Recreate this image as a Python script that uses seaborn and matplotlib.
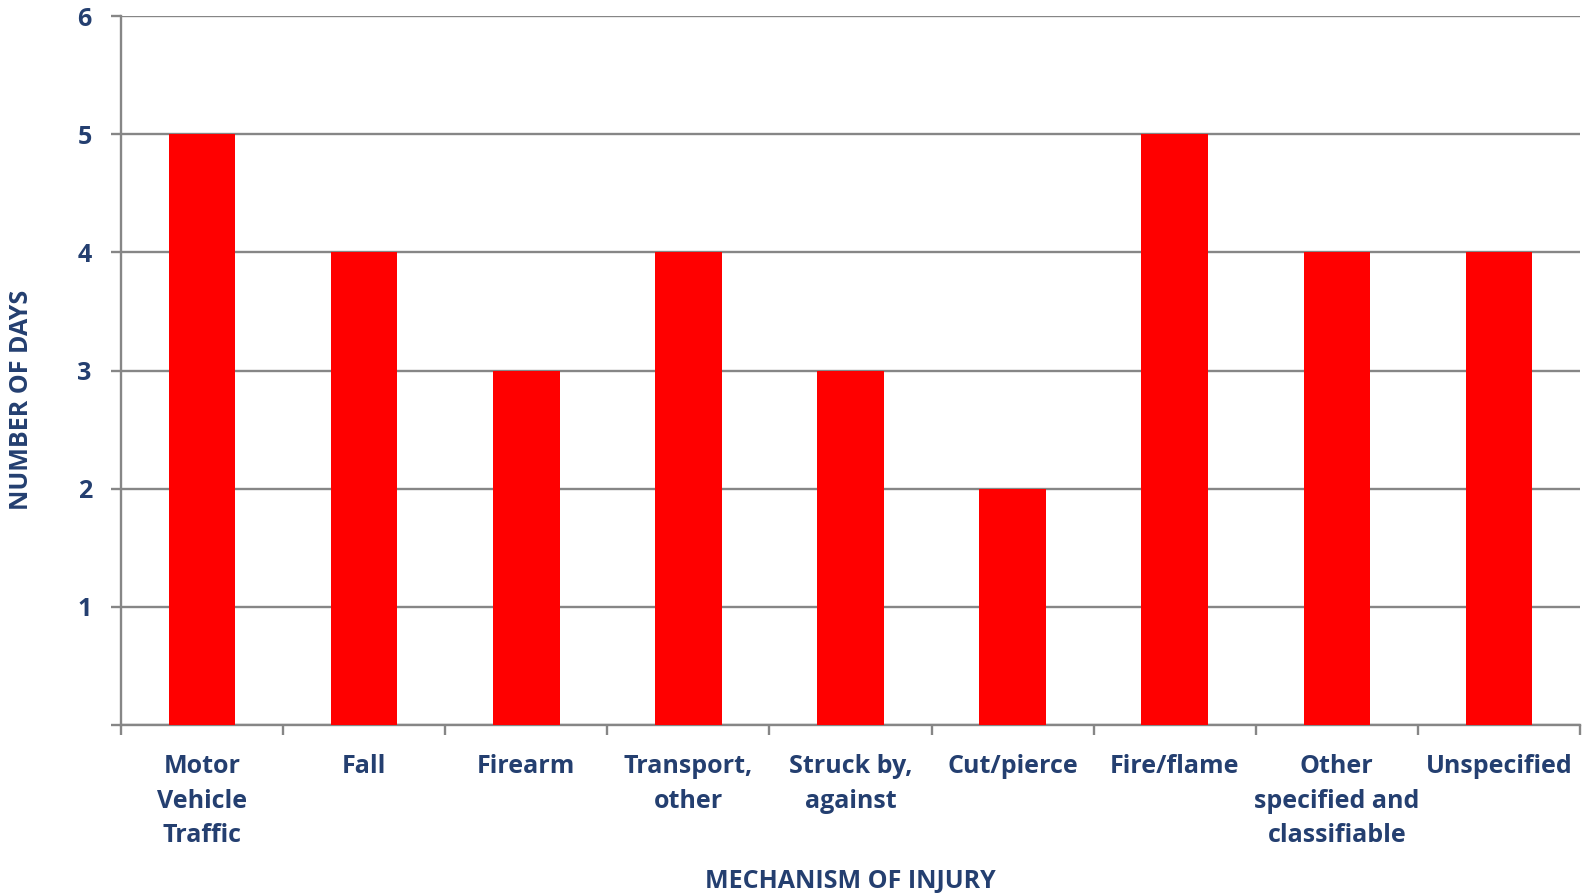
import numpy as np
import pandas as pd
import matplotlib
matplotlib.use("Agg")
import matplotlib.pyplot as plt
import seaborn as sns

categories = ["Motor\nVehicle\nTraffic", "Fall", "Firearm", "Transport,\nother",
              "Struck by,\nagainst", "Cut/pierce", "Fire/flame",
              "Other\nspecified and\nclassifiable", "Unspecified"]
days = [5, 4, 3, 4, 3, 2, 5, 4, 4]
y_ticks = [0, 1, 2, 3, 4, 5, 6]
y_tick_labels = ["", "1", "2", "3", "4", "5", "6"]

sns.set_theme(style="white")
plt.rcParams["font.family"] = ["Open Sans", "DejaVu Sans"]
plt.rcParams["font.weight"] = "bold"

TEXT = "#243F70"
GRID = "#868686"
FS = 18

df = pd.DataFrame({"cat": categories, "days": days})

fig = plt.figure(figsize=(15.85, 8.93), dpi=100)
ax = fig.add_axes([121 / 1585, 1 - 725 / 893, (1580 - 121) / 1585, (725 - 16) / 893])

sns.barplot(data=df, x="cat", y="days", color="#FF0000", width=0.41,
            saturation=1, linewidth=0, edgecolor="none", ax=ax, zorder=3)

ax.set_xlim(-0.5, len(categories) - 0.5)
ax.set_ylim(0, 6)
ax.set_yticks(y_ticks)
ax.set_yticklabels(y_tick_labels, fontsize=FS, fontweight="bold", color=TEXT)
ax.yaxis.grid(True, color=GRID, linewidth=1.7, zorder=0)
ax.set_axisbelow(True)

ax.set_xticks(range(len(categories)))
ax.set_xticklabels(categories, fontsize=FS, fontweight="bold", color=TEXT,
                   linespacing=1.5, va="top")
ax.set_xticks(np.arange(-0.5, len(categories), 1.0), minor=True)
ax.tick_params(axis="x", which="major", bottom=True, length=0, pad=21)
ax.tick_params(axis="x", which="minor", bottom=True, length=7, width=1.7,
               color=GRID, direction="out")
ax.tick_params(axis="y", which="major", left=True, length=7, width=1.7, color=GRID,
               pad=14, direction="out")

for side in ["top", "right"]:
    ax.spines[side].set_visible(False)
for side in ["left", "bottom"]:
    ax.spines[side].set_color(GRID)
    ax.spines[side].set_linewidth(1.7)

ax.set_xlabel("")
ax.set_ylabel("")
fig.text(850 / 1585, 1 - 881 / 893, "MECHANISM OF INJURY", ha="center", va="center",
         fontsize=FS, fontweight="bold", color=TEXT)
fig.text(22 / 1585, 1 - 400 / 893, "NUMBER OF DAYS", ha="center", va="center",
         rotation=90, fontsize=FS, fontweight="bold", color=TEXT)

fig.savefig("out.png", dpi=100, facecolor="white")
